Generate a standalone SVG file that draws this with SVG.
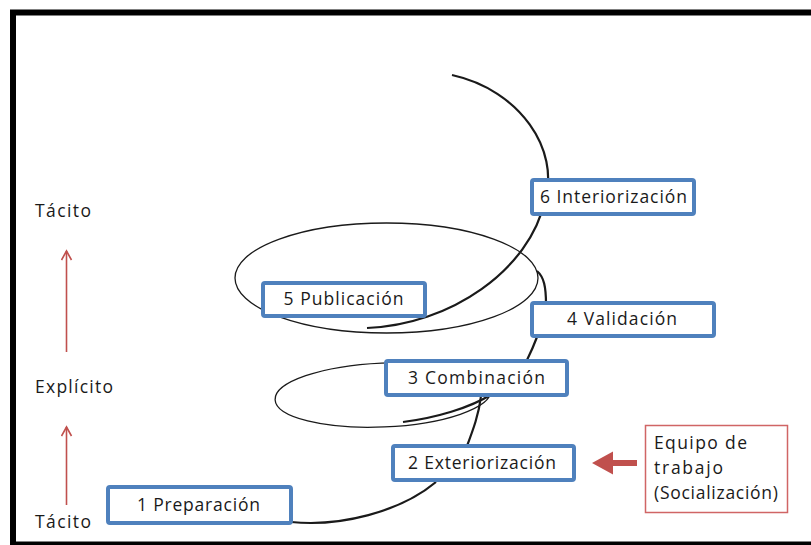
<svg xmlns="http://www.w3.org/2000/svg" width="811" height="545" viewBox="0 0 811 545">
<style>
.box{fill:#fff;stroke:#4F81BD;stroke-width:4;}
.lbl{font-family:"Open Sans","Liberation Sans",sans-serif;font-size:17.5px;fill:#1a1a1a;}
.thin{fill:none;stroke:#1a1a1a;stroke-width:1.3;}
.thick{fill:none;stroke:#1a1a1a;stroke-width:2.2;}
.up{stroke:#C0504D;stroke-width:1.6;fill:none;}
</style>
<defs>
<marker id="ah" viewBox="0 0 12 12" refX="10" refY="6" markerWidth="12" markerHeight="12" markerUnits="userSpaceOnUse" orient="auto">
<path d="M1 1 L10 6 L1 11" fill="none" stroke="#C0504D" stroke-width="1.6"/>
</marker>
</defs>
<rect x="0" y="0" width="811" height="545" fill="#fff"/>
<rect x="13" y="12.5" width="820" height="532" fill="#fff" stroke="#000" stroke-width="6"/>

<g id="connectors">
<ellipse class="thin" cx="386.5" cy="278" rx="151.5" ry="55"/>
<ellipse class="thin" cx="383" cy="395" rx="108" ry="32" transform="rotate(-2.5 383 395)"/>
<path class="thick" d="M291 522 C340 527 400 512 436 482"/>
<path class="thick" d="M467 446 C473 430 479 414 481 396"/>
<path class="thick" d="M403 422 C435 418 470 408 492 394"/>
<path class="thick" d="M527 360 C531 352 534 345 537 337"/>
<path class="thick" d="M546 304 C546 287 544 277 537 271"/>
<path class="thick" d="M452 75 C520 90 560 150 545 200 C530 270 450 325 367 328"/>
<line class="up" x1="66.5" y1="352" x2="66.5" y2="251" marker-end="url(#ah)"/>
<line class="up" x1="66.5" y1="505" x2="66.5" y2="427" marker-end="url(#ah)"/>
<path d="M592 463 L613 451.5 L613 460 L637 460 L637 466 L613 466 L613 474.5 Z" fill="#C0504D"/>
</g>

<g id="n1"><rect class="box" x="108" y="487" width="183" height="36" rx="2"/><text class="lbl" x="137" y="511" textLength="123" lengthAdjust="spacing">1 Preparación</text></g>
<g id="n2"><rect class="box" x="393" y="446" width="181" height="34" rx="2"/><text class="lbl" x="408" y="468.5" textLength="148" lengthAdjust="spacing">2 Exteriorización</text></g>
<g id="n3"><rect class="box" x="386" y="361" width="181" height="34" rx="2"/><text class="lbl" x="408" y="383.5" textLength="137" lengthAdjust="spacing">3 Combinación</text></g>
<g id="n4"><rect class="box" x="532" y="303" width="182" height="33" rx="2"/><text class="lbl" x="567" y="325" textLength="110" lengthAdjust="spacing">4 Validación</text></g>
<g id="n5"><rect class="box" x="263" y="283" width="162" height="33" rx="2"/><text class="lbl" x="283.5" y="305" textLength="120" lengthAdjust="spacing">5 Publicación</text></g>
<g id="n6"><rect class="box" x="532" y="180" width="162" height="34" rx="2"/><text class="lbl" x="540" y="203" textLength="147" lengthAdjust="spacing">6 Interiorización</text></g>

<g id="team">
<rect x="645.5" y="425.5" width="142" height="87" fill="#fff" stroke="#D06565" stroke-width="1.5"/>
<text class="lbl" x="654" y="448.5" textLength="93" lengthAdjust="spacing">Equipo de</text>
<text class="lbl" x="654" y="474" textLength="69" lengthAdjust="spacing">trabajo</text>
<text class="lbl" x="654" y="498.5" textLength="124" lengthAdjust="spacing">(Socialización)</text>
</g>

<g id="axis">
<text class="lbl" x="35" y="217" textLength="56" lengthAdjust="spacing">Tácito</text>
<text class="lbl" x="35" y="392.5" textLength="78" lengthAdjust="spacing">Explícito</text>
<text class="lbl" x="35" y="527.5" textLength="56" lengthAdjust="spacing">Tácito</text>
</g>
</svg>
